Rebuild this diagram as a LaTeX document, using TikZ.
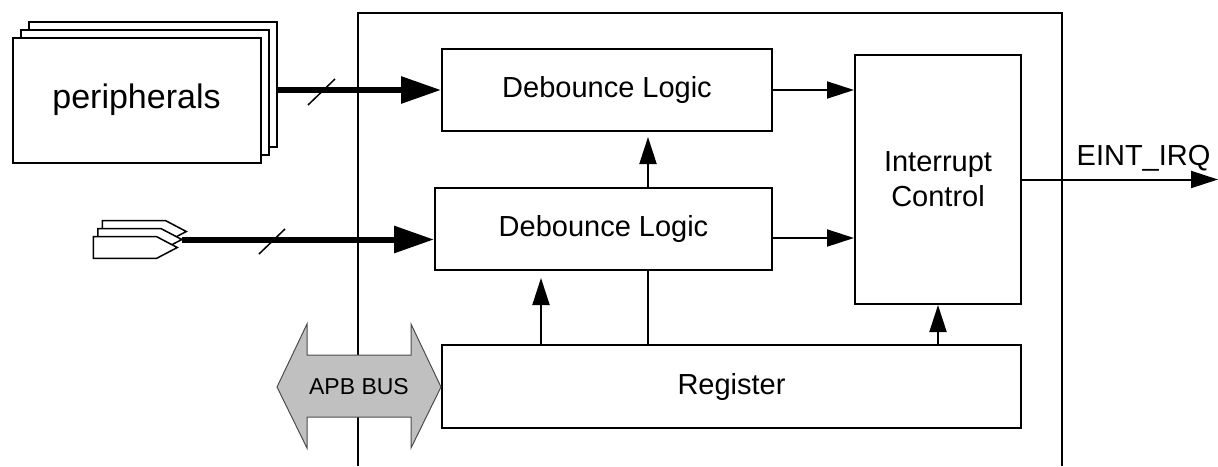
\documentclass[tikz,border=0pt]{standalone}
\usepackage{fontspec}
\setmainfont{Liberation Sans}
\usetikzlibrary{
  arrows.meta,
  calc,
  positioning,
}
\tikzstyle{block} = [
  draw,
  rectangle,
  line width=2pt,
  fill=white,
  inner sep=0pt,
  font=\fontsize{29}{35}\selectfont,
]
\tikzstyle{arrow} = [
  -{Triangle[length=27pt,width=17pt]},
  line width=2pt,
]
\tikzstyle{busline} = [
  -{Triangle[length=40pt,width=26pt]},
  line width=6pt,
]
\tikzstyle{slash} = [line width=1.5pt]
\tikzstyle{pin} = [draw, line width=1.5pt, fill=white]
\definecolor{busgray}{RGB}{192, 192, 192}

\begin{document}
\begin{tikzpicture}[x=1pt,y=-1pt]
  \useasboundingbox (0,0) rectangle (1218,466);
  % chip outline
  \draw[line width=2pt] (358,466) -- (358,13) -- (1062,13) -- (1062,466);

  \node[block,minimum width=330,minimum height=82]    (dl1)   at (607,90)      {Debounce Logic};
  \node[block,minimum width=337,minimum height=82]    (dl2)   at (603.5,229)   {Debounce Logic};
  \node[block,minimum width=166,minimum height=249,align=center]    (ic)    at (938,179.5)   {Interrupt\\Control};
  \node[block,minimum width=579,minimum height=83]    (reg)   at (731.5,386.5) {Register};

  % peripherals stack
  \node[block,minimum width=248,minimum height=125]    (p0)    at (152.5,84)    {};
  \node[block,minimum width=248,minimum height=125]    (p1)    at ([shift={(-8pt,-8pt)}]p0.center)    {};
  \node[block,minimum width=248,minimum height=125,font=\fontsize{34}{40}\selectfont]    (p2)    at ([shift={(-8pt,-8pt)}]p1.center)    {peripherals};

  % pins
  \draw[pin] (102.3,220.7) -- (165.7,220.7) -- (186.3,231.5) -- (165.7,242.3) -- (102.3,242.3) -- cycle;
  \draw[pin] (97.8,228.7) -- (161.2,228.7) -- (181.8,239.5) -- (161.2,250.3) -- (97.8,250.3) -- cycle;
  \draw[pin] (93.3,236.7) -- (156.7,236.7) -- (177.3,247.5) -- (156.7,258.3) -- (93.3,258.3) -- cycle;
  \coordinate (pinout) at (181.8,239.5);

  % buses in
  \draw[busline] (p0.east |- dl1.west) -- (dl1.west);
  \draw[busline] (pinout) -- (dl2.west |- pinout);
  \draw[slash] (308,105) -- (335,79);
  \draw[slash] (259,254) -- (285,229);

  % APB bus
  \draw[fill=busgray,draw=black!70,line width=1pt] (277,387) -- (307,324) -- (307,355) -- (411,355) -- (411,324) -- (441,387) -- (411,448) -- (411,417) -- (307,417) -- (307,448) -- cycle;
  \node[font=\fontsize{23}{27}\selectfont]    (apb)    at (359,387)    {APB BUS};

  \draw[arrow] (dl1.east) -- (dl1.east -| ic.west);
  \draw[arrow] ([yshift=-9pt]dl2.east) -- ([yshift=-9pt]dl2.east -| ic.west);
  \draw[arrow,shorten >=5pt] ([xshift=44.5pt]dl2.north) -- ([xshift=44.5pt]dl2.north |- dl1.south);
  \draw[line width=2pt] ([xshift=44.5pt]dl2.south) -- ([xshift=44.5pt]dl2.south |- reg.north);
  \draw[arrow,shorten >=7pt] ([xshift=-62.5pt]dl2.south |- reg.north) -- ([xshift=-62.5pt]dl2.south);
  \draw[arrow] (reg.north -| ic.south) -- (ic.south);

  \coordinate (irq) at (1218,179.5);
  \draw[arrow] (ic.east) -- (irq) node[pos=0.62,above=4pt,font=\fontsize{29}{35}\selectfont] {EINT\_IRQ};
\end{tikzpicture}
\end{document}
